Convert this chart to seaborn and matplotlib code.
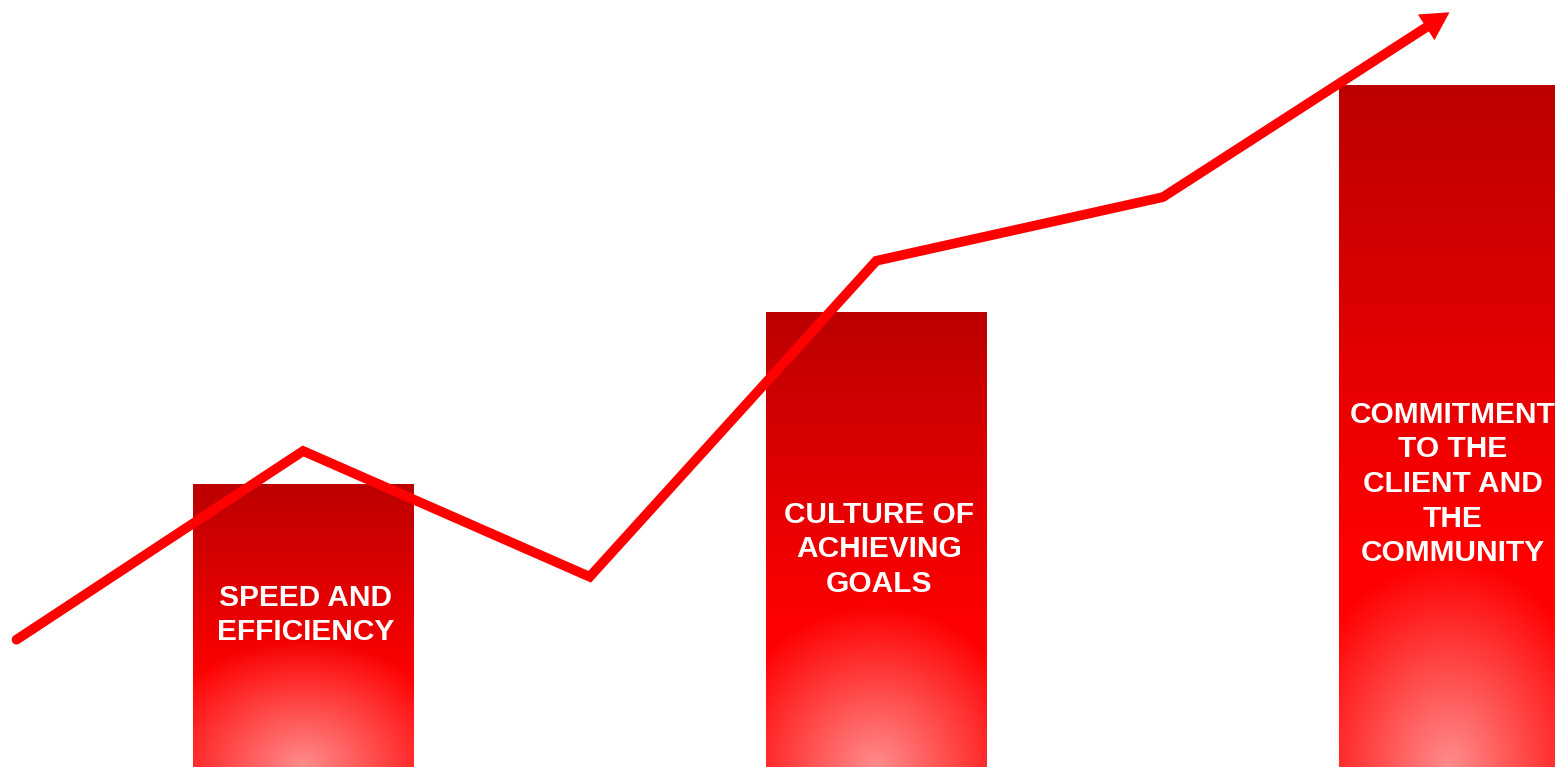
import numpy as np
import pandas as pd
import matplotlib
matplotlib.use("Agg")
import matplotlib.pyplot as plt
import seaborn as sns

# --- data -------------------------------------------------------------
bar_steps = [1, 3, 5]
bar_heights = [36.9, 59.3, 88.9]
bar_labels = [
    "SPEED AND\nEFFICIENCY",
    "CULTURE OF\nACHIEVING\nGOALS",
    "COMMITMENT\nTO THE\nCLIENT AND\nTHE\nCOMMUNITY",
]
label_levels = [19.8, 28.4, 36.9]

trend_steps = [0, 1, 2, 3, 4, 5]
trend_values = [16.6, 41.2, 24.8, 66.0, 74.3, 98.4]

# --- style ------------------------------------------------------------
sns.set_theme(style="white")
plt.rcParams["font.family"] = ["Liberation Sans", "DejaVu Sans"]

RED = "#FF0000"
DARK = np.array([188, 0, 0]) / 255.0
BRIGHT = np.array([255, 0, 0]) / 255.0

W_PX, H_PX = 1555, 767
fig = plt.figure(figsize=(W_PX / 100, H_PX / 100), dpi=100)
ax = fig.add_axes([0, 0, 1, 1])

x_left, x_right = -0.0576, 5.368
ax.set_xlim(x_left, x_right)
ax.set_ylim(0, 100)
ax.set_axis_off()

bars_df = pd.DataFrame({"step": bar_steps, "height": bar_heights})
sns.barplot(data=bars_df, x="step", y="height", native_scale=True,
            width=0.384, color="#E00000", saturation=1, ax=ax,
            linewidth=0, zorder=1)

# pixel scale for shaping the gradients
px_per_x = W_PX / (x_right - x_left)
px_per_y = H_PX / 100.0

for patch in ax.patches:
    x0, y0 = patch.get_x(), patch.get_y()
    w, h = patch.get_width(), patch.get_height()
    wp, hp = w * px_per_x, h * px_per_y
    ny, nx = max(int(hp), 2), max(int(wp), 2)
    u = np.linspace(0, 1, nx)[None, :]
    s = np.linspace(0, 1, ny)[:, None]          # 0 at bottom, 1 at top
    # vertical shading: dark at the top, pure red lower down
    f = np.clip((1 - s) / 0.68, 0, 1)[..., None]
    img = DARK * (1 - f) + BRIGHT * f
    img = np.broadcast_to(img, (ny, nx, 3)).copy()
    # soft light glow rising from the bottom centre
    rx = 0.72 * wp
    ry = 70 + 0.2 * hp
    d = np.sqrt(((u - 0.5) * wp / rx) ** 2 + (s * hp / ry) ** 2)
    a = (0.55 * np.clip(1 - d, 0, 1))[..., None]
    img = img * (1 - a) + a
    im = ax.imshow(img, extent=(x0, x0 + w, y0, y0 + h), origin="lower",
                   aspect="auto", interpolation="bilinear", zorder=2)
    im.set_clip_path(patch)

# restore limits changed by imshow
ax.set_xlim(x_left, x_right)
ax.set_ylim(0, 100)

# rising trend line; the last segment is a filled arrow
LW = 7.0
trend_df = pd.DataFrame({"step": trend_steps[:-1], "value": trend_values[:-1]})
sns.lineplot(data=trend_df, x="step", y="value", sort=False, color=RED,
             linewidth=LW, ax=ax, zorder=4,
             solid_capstyle="round", solid_joinstyle="miter")
MS = 20  # points
ax.annotate("", xy=(trend_steps[-1], trend_values[-1]),
            xytext=(trend_steps[-2], trend_values[-2]),
            arrowprops=dict(arrowstyle=f"simple,head_length=1.0,"
                                       f"head_width=1.1,tail_width={LW / MS:.3f}",
                            mutation_scale=MS, fc=RED, ec="none", lw=0,
                            shrinkA=0, shrinkB=0),
            zorder=4)

for step, level, text in zip(bar_steps, label_levels, bar_labels):
    ax.text(step + 0.01, level, text, ha="center", va="center",
            multialignment="center", color="white", fontsize=21.5,
            fontweight="bold", linespacing=1.3, zorder=5)

ax.set_xlabel("")
ax.set_ylabel("")
fig.savefig("out.png", dpi=100, facecolor="white")
